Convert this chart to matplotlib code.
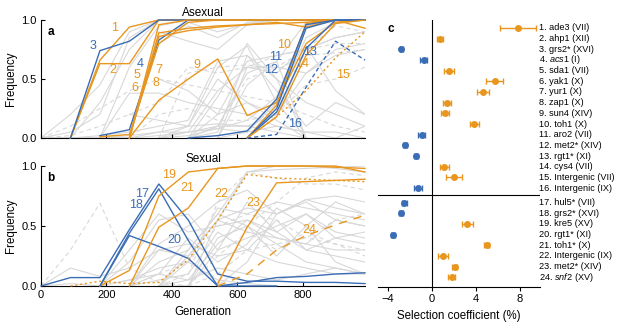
import numpy as np
import matplotlib.pyplot as plt

plt.rcParams["font.family"] = ["Liberation Sans", "DejaVu Sans"]
plt.rcParams["mathtext.fontset"] = "custom"
plt.rcParams["mathtext.it"] = "Liberation Sans:italic"
plt.rcParams["mathtext.rm"] = "Liberation Sans"
plt.rcParams["axes.linewidth"] = 0.8

ORANGE = "#E8961E"
BLUE = "#3A6DB5"
GREY = "#D8D8D8"
N = None

# sampling schedule (generations)
generations = [0, 90, 180, 270, 360, 450, 540, 630, 720, 810, 900, 990]

# ---- asexual populations: highlighted mutations 1-16 ----
asex_ids = list(range(1, 17))
asex_traj = [
    [N, 0.0, 0.66, 0.94, 1.0, 1.0, 1.0, 1.0, 1.0, 1.0, 1.0, 1.0],
    [N, 0.0, 0.63, 0.63, 1.0, 1.0, 1.0, 1.0, 1.0, 1.0, 1.0, 1.0],
    [N, 0.0, 0.74, 0.82, 1.0, 1.0, 1.0, 1.0, 1.0, 1.0, 1.0, 1.0],
    [N, N, 0.02, 0.07, 0.83, 1.0, 1.0, 1.0, 1.0, 1.0, 1.0, 1.0],
    [N, N, N, 0.0, 0.89, 0.93, 0.95, 0.96, 0.98, 0.94, 1.0, 1.0],
    [N, N, 0.01, 0.03, 0.80, 0.98, 1.0, 1.0, 1.0, 1.0, 1.0, 1.0],
    [N, N, N, 0.0, 0.96, 1.0, 1.0, 1.0, 1.0, 1.0, 1.0, 1.0],
    [N, N, N, 0.0, 0.86, 0.91, 0.94, 0.96, 0.97, 0.98, 1.0, 0.93],
    [N, N, N, 0.0, 0.32, 0.50, 0.67, 0.19, 0.30, 0.80, 0.98, 1.0],
    [N, N, N, N, N, N, N, 0.0, 0.28, 0.97, 1.0, 1.0],
    [N, N, N, N, N, 0.0, 0.02, 0.06, 0.33, 0.96, 1.0, 1.0],
    [N, N, N, N, N, N, N, 0.0, 0.25, 0.93, 1.0, 1.0],
    [N, N, N, N, N, N, N, 0.0, 0.22, 0.76, 1.0, 1.0],
    [N, N, N, N, N, N, N, 0.0, 0.18, 0.70, 0.97, 1.0],
    [N, N, N, N, N, N, N, 0.0, 0.18, 0.40, 0.68, 0.90],
    [N, N, N, N, N, N, N, 0.0, 0.03, 0.43, 0.82, 0.66],
]

# ---- sexual populations: highlighted mutations 17-24 ----
sex_ids = list(range(17, 25))
sex_traj = [
    [0.0, 0.07, 0.07, 0.47, 0.85, 0.55, 0.10, 0.04, 0.04, 0.03, 0.03, 0.02],
    [N, N, 0.0, 0.44, 0.81, 0.38, 0.0, 0.0, 0.0, N, N, N],
    [N, N, 0.0, 0.13, 0.75, 0.95, 0.98, 1.0, 1.0, 1.0, 1.0, 0.95],
    [N, N, 0.0, 0.42, 0.33, 0.23, 0.0, 0.03, 0.07, 0.08, 0.10, 0.11],
    [N, N, N, 0.0, 0.49, 0.65, 0.98, 1.0, 1.0, 1.0, 0.99, 0.98],
    [N, 0.0, 0.04, 0.02, 0.03, 0.22, 0.55, 0.93, 0.90, 0.89, 0.88, 0.87],
    [N, N, N, N, N, N, 0.02, 0.49, 0.86, 0.87, 0.88, 0.89],
    [N, N, N, N, N, N, 0.0, 0.10, 0.30, 0.42, 0.51, 0.59],
]

# ---- background mutations (grey) ----
asex_bg_solid = [
    [0.0, 0.0, 0.30, 0.75, 1.0, 1.0, 1.0, 1.0, 1.0, 1.0, 1.0, 1.0],
    [0.0, 0.05, 0.20, 0.85, 1.0, 1.0, 1.0, 1.0, 1.0, 1.0, 1.0, 1.0],
    [0.0, 0.20, 0.45, 0.90, 1.0, 1.0, 1.0, 1.0, 1.0, 1.0, 1.0, 1.0],
    [N, N, 0.0, 0.60, 0.95, 1.0, 1.0, 1.0, 1.0, 1.0, 1.0, 1.0],
    [N, N, 0.0, 0.0, 0.85, 0.98, 0.90, 0.97, 1.0, 1.0, 1.0, 1.0],
    [N, N, N, 0.0, 0.90, 0.82, 0.75, 0.96, 1.0, 1.0, 1.0, 1.0],
    [0.0, 0.0, 0.02, 0.05, 0.10, 0.15, 0.65, 0.70, 0.50, 0.0, N, N],
    [N, N, N, 0.0, 0.05, 0.10, 0.60, 0.78, 0.30, 0.0, N, N],
    [N, N, N, N, 0.0, 0.05, 0.40, 0.60, 0.60, 0.55, 0.70, 0.75],
    [N, N, N, N, 0.0, 0.10, 0.50, 0.30, 0.20, 0.55, 0.75, 0.80],
    [N, N, N, N, 0.0, 0.02, 0.08, 0.15, 0.35, 0.95, 1.0, 1.0],
    [N, N, N, N, N, N, 0.0, 0.05, 0.30, 0.85, 0.98, 1.0],
    [0.0, 0.0, 0.0, 0.02, 0.05, 0.05, 0.10, 0.10, 0.20, 0.75, 0.85, 0.90],
    [N, N, N, 0.20, 0.15, 0.10, 0.12, 0.10, 0.05, 0.0, N, N],
    [N, N, 0.0, 0.38, 0.38, 0.30, 0.25, 0.20, 0.10, 0.05, 0.05, 0.0],
    [N, N, N, N, 0.50, 0.40, 0.20, 0.30, 0.15, 0.0, N, N],
    [N, N, N, N, N, 0.0, 0.35, 0.80, 0.50, 0.30, 0.20, 0.10],
    [N, N, N, N, N, 0.0, 0.20, 0.65, 0.70, 0.75, 0.85, 0.90],
    [0.0, 0.0, 0.0, 0.0, 0.02, 0.05, 0.08, 0.05, 0.10, 0.05, 0.0, 0.10],
    [N, N, N, N, N, N, 0.0, 0.60, 0.55, 0.78, 0.40, 0.20],
    [N, N, N, N, N, 0.0, 0.10, 0.55, 0.65, 0.0, N, N],
    [N, N, N, N, 0.80, 0.95, 0.85, 0.98, 1.0, 1.0, 1.0, 1.0],
    [N, N, N, N, N, 0.0, 0.05, 0.70, 0.40, 0.10, 0.30, 0.20],
    [N, N, N, N, N, N, 0.0, 0.45, 0.65, 0.98, 1.0, 1.0],
]
asex_bg_dashed = [
    [0.0, 0.02, 0.10, 0.20, 0.30, 0.60, 0.55, 0.60, 0.70, 0.75, 0.80, 0.80],
    [N, N, 0.0, 0.0, 0.20, 0.25, 0.15, 0.15, 0.20, 0.45, 0.50, 0.60],
    [N, N, N, N, N, 0.0, 0.10, 0.50, 0.60, 0.75, 0.95, 0.90],
    [0.0, 0.10, 0.25, 0.40, 0.50, 0.45, 0.40, 0.35, 0.30, 0.20, 0.10, 0.05],
    [N, N, N, N, 0.0, 0.55, 0.60, 0.62, 0.58, 0.70, 0.72, 0.75],
]

sex_bg_solid = [
    [0.0, 0.15, 0.08, 0.15, 0.30, 0.35, 0.25, 0.30, 0.20, 0.15, 0.10, 0.10],
    [N, N, 0.0, 0.30, 0.60, 0.45, 0.50, 0.55, 0.40, 0.35, 0.30, 0.30],
    [N, N, 0.0, 0.20, 0.55, 0.60, 0.30, 0.40, 0.50, 0.60, 0.45, 0.40],
    [N, N, N, 0.0, 0.35, 0.50, 0.70, 0.80, 0.60, 0.72, 0.75, 0.70],
    [N, N, N, 0.0, 0.20, 0.30, 0.60, 0.95, 0.97, 0.98, 0.99, 1.0],
    [N, N, N, N, N, 0.0, 0.40, 0.50, 0.25, 0.50, 0.20, 0.10],
    [N, N, N, 0.0, 0.05, 0.10, 0.45, 0.30, 0.55, 0.30, 0.25, 0.20],
    [N, N, N, N, 0.0, 0.25, 0.55, 0.65, 0.60, 0.72, 0.65, 0.60],
    [N, N, N, N, 0.0, 0.30, 0.60, 0.50, 0.35, 0.20, 0.15, 0.10],
    [N, N, 0.0, 0.05, 0.10, 0.05, 0.15, 0.10, 0.05, 0.10, 0.15, 0.10],
    [N, N, N, N, N, N, 0.0, 0.20, 0.60, 0.70, 0.55, 0.50],
    [N, N, N, 0.0, 0.30, 0.25, 0.55, 0.45, 0.40, 0.35, 0.55, 0.50],
    [N, N, N, N, 0.0, 0.0, 0.55, 0.95, 1.0, 1.0, 0.98, 0.95],
    [N, N, N, N, 0.0, 0.05, 0.35, 0.55, 0.45, 0.30, 0.40, 0.45],
    [N, N, N, 0.0, 0.10, 0.40, 0.20, 0.35, 0.65, 0.50, 0.70, 0.60],
    [0.0, 0.02, 0.0, 0.05, 0.15, 0.20, 0.05, 0.02, 0.0, N, N, N],
    [N, N, N, N, N, 0.0, 0.30, 0.70, 0.45, 0.60, 0.40, 0.35],
    [N, N, N, N, 0.0, 0.20, 0.65, 0.60, 0.70, 0.65, 0.60, 0.55],
]
sex_bg_dashed = [
    [0.0, 0.30, 0.69, 0.15, 0.03, 0.0, N, N, N, N, N, N],
    [N, N, N, 0.0, 0.10, 0.20, 0.50, 0.60, 0.55, 0.40, 0.35, 0.30],
    [N, N, N, N, N, 0.0, 0.10, 0.30, 0.35, 0.40, 0.55, 0.60],
    [N, N, N, N, N, N, 0.0, 0.50, 0.70, 0.90, 0.95, 0.92],
    [N, N, N, N, 0.0, 0.10, 0.70, 0.95, 0.90, 0.85, 0.85, 0.80],
    [N, N, N, N, N, 0.0, 0.25, 0.45, 0.30, 0.45, 0.35, 0.25],
]

# line styles of the highlighted mutations
asex_colors = [ORANGE, ORANGE, BLUE, BLUE, ORANGE, ORANGE, ORANGE, ORANGE,
               ORANGE, ORANGE, BLUE, BLUE, BLUE, ORANGE, ORANGE, BLUE]
asex_ls = ["-"] * 14 + [(0, (1.5, 2)), (0, (3, 2))]
sex_colors = [BLUE, BLUE, ORANGE, BLUE, ORANGE, ORANGE, ORANGE, ORANGE]
sex_ls = ["-", "-", "-", "-", "-", (0, (1.5, 2)), "-", (0, (6, 5))]

# label positions (generation, frequency)
asex_label_xy = [(226, 0.93), (220, 0.58), (159, 0.78), (302, 0.63), (293, 0.53),
                 (287, 0.42), (360, 0.58), (351, 0.47), (476, 0.62), (742, 0.79),
                 (718, 0.69), (702, 0.58), (821, 0.73), (797, 0.63), (922, 0.53),
                 (776, 0.12)]
sex_label_xy = [(310, 0.77), (290, 0.675), (392, 0.925), (407, 0.38),
                (448, 0.82), (552, 0.77), (650, 0.69), (821, 0.47)]

# ---- selection coefficients ----
sel_labels = [
    "1. ade3 (VII)", "2. ahp1 (XII)", "3. grs2* (XVI)", r"4. $\mathit{acs1}$ (I)",
    "5. sda1 (VII)", "6. yak1 (X)", "7. yur1 (X)", "8. zap1 (X)",
    "9. sun4 (XIV)", "10. toh1 (X)", "11. aro2 (VII)", "12. met2* (XIV)",
    "13. rgt1* (XI)", "14. cys4 (VII)", "15. Intergenic (VII)", "16. Intergenic (IX)",
    "17. hul5* (VII)", "18. grs2* (XVI)", "19. kre5 (XV)", "20. rgt1* (XI)",
    "21. toh1* (X)", "22. Intergenic (IX)", "23. met2* (XIV)", r"24. $\mathit{snf2}$ (XV)",
]
sel_coef = [7.82, 0.73, -2.79, -0.76, 1.58, 5.70, 4.64, 1.36, 1.21, 3.85, -0.94, -2.43,
            -1.43, 1.12, 2.03, -1.27, -2.52, -2.79, 3.21, -3.55, 4.97, 1.03, 2.06, 1.79]
sel_err = [1.60, 0.29, 0.15, 0.30, 0.45, 0.80, 0.57, 0.40, 0.35, 0.42, 0.30, 0.20,
           0.20, 0.40, 0.72, 0.38, 0.22, 0.20, 0.48, 0.20, 0.20, 0.45, 0.22, 0.30]


def draw_line(ax, values, **kw):
    y = np.array([np.nan if v is None else v for v in values], dtype=float)
    x = np.array(generations, dtype=float)
    ok = ~np.isnan(y)
    ax.plot(x[ok], y[ok], **kw)


def style_freq_axis(ax):
    ax.set_xlim(0, 990)
    ax.set_ylim(0, 1)
    ax.set_yticks([0, 0.5, 1.0])
    ax.set_yticklabels(["0.0", "0.5", "1.0"])
    ax.set_xticks([0, 200, 400, 600, 800])
    ax.spines["top"].set_visible(False)
    ax.spines["right"].set_visible(False)
    ax.tick_params(direction="in", length=3, width=0.8, labelsize=8, pad=3)
    ax.set_ylabel("Frequency", fontsize=8.3, labelpad=3)


fig = plt.figure(figsize=(6.39, 3.25), dpi=100)
ax_a = fig.add_axes([0.0642, 0.5754, 0.507, 0.3631])
ax_b = fig.add_axes([0.0642, 0.12, 0.507, 0.3692])
ax_c = fig.add_axes([0.5915, 0.1169, 0.2535, 0.8216])

# panel a
for vals in asex_bg_solid:
    draw_line(ax_a, vals, color=GREY, lw=0.8, zorder=1)
for vals in asex_bg_dashed:
    draw_line(ax_a, vals, color=GREY, lw=0.8, ls=(0, (4, 3)), zorder=1)
for vals, c, ls in zip(asex_traj, asex_colors, asex_ls):
    draw_line(ax_a, vals, color=c, lw=1.0, ls=ls, zorder=3, clip_on=False)
for i, (gx, fy), c in zip(asex_ids, asex_label_xy, asex_colors):
    ax_a.text(gx, fy, str(i), color=c, fontsize=9, ha="center", va="center", zorder=4)
style_freq_axis(ax_a)
ax_a.set_xticklabels([])
ax_a.set_title("Asexual", fontsize=8.5, pad=3)
ax_a.text(0.02, 0.9, "a", transform=ax_a.transAxes, fontsize=8.5, fontweight="bold",
          va="center")

# panel b
for vals in sex_bg_solid:
    draw_line(ax_b, vals, color=GREY, lw=0.8, zorder=1)
for vals in sex_bg_dashed:
    draw_line(ax_b, vals, color=GREY, lw=0.8, ls=(0, (4, 3)), zorder=1)
for vals, c, ls in zip(sex_traj, sex_colors, sex_ls):
    draw_line(ax_b, vals, color=c, lw=1.0, ls=ls, zorder=3, clip_on=False)
for i, (gx, fy), c in zip(sex_ids, sex_label_xy, sex_colors):
    ax_b.text(gx, fy, str(i), color=c, fontsize=9, ha="center", va="center", zorder=4)
style_freq_axis(ax_b)
ax_b.set_title("Sexual", fontsize=8.5, pad=3)
ax_b.set_xlabel("Generation", fontsize=8.3, labelpad=4)
ax_b.text(0.02, 0.9, "b", transform=ax_b.transAxes, fontsize=8.5, fontweight="bold",
          va="center")

# panel c
rows = np.arange(len(sel_coef), dtype=float)
rows[16:] += 0.37
for y, s, e in zip(rows, sel_coef, sel_err):
    c = ORANGE if s > 0 else BLUE
    ax_c.errorbar(s, y, xerr=e, fmt="o", color=c, ms=4, elinewidth=1.0,
                  capsize=2.5, capthick=1.0, zorder=3)
for y, lab in zip(rows, sel_labels):
    ax_c.text(0.995, y, lab, transform=ax_c.get_yaxis_transform(), fontsize=6.6,
              ha="left", va="center")
ax_c.set_xlim(-4.91, 9.82)
ax_c.set_ylim(24.28, -0.75)
ax_c.axvline(0, color="black", lw=0.8, zorder=2)
ax_c.axhline(15.65, color="black", lw=0.8, zorder=2)
ax_c.set_xticks([-4, 0, 4, 8])
ax_c.set_xticklabels(["\u22124", "0", "4", "8"])
ax_c.set_yticks([])
for side in ["left", "right", "top"]:
    ax_c.spines[side].set_visible(False)
ax_c.tick_params(axis="x", direction="out", length=3, width=0.8, labelsize=8, pad=2)
ax_c.set_xlabel("Selection coefficient (%)", fontsize=8.3, labelpad=4)
ax_c.text(0.06, 0.965, "c", transform=ax_c.transAxes, fontsize=8.5, fontweight="bold",
          va="center")

fig.savefig("out.png", dpi=100)
